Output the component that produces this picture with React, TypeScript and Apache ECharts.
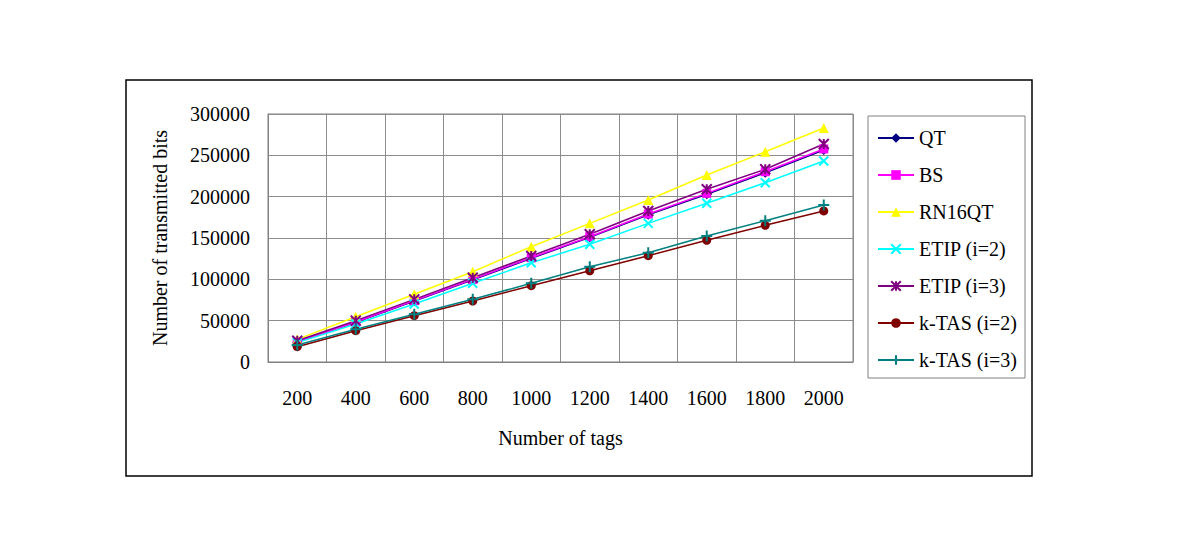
import React, { useEffect, useRef } from "react";
import * as echarts from "echarts";

const categories = ["200", "400", "600", "800", "1000", "1200", "1400", "1600", "1800", "2000"];
const seriesNames = ["QT", "BS", "RN16QT", "ETIP (i=2)", "ETIP (i=3)", "k-TAS (i=2)", "k-TAS (i=3)"];
const qt = [24000, 48000, 73600, 99400, 125400, 150800, 178000, 203000, 229000, 256500];
const bs = [24200, 48400, 74200, 100000, 126200, 151600, 179000, 204000, 230200, 257700];
const rn16qt = [27400, 54800, 81900, 109200, 139500, 167700, 196000, 226200, 254400, 283000];
const etip2 = [23400, 46000, 70200, 95200, 120100, 142400, 167700, 192000, 216900, 243100];
const etip3 = [25800, 50000, 75800, 102000, 128200, 154500, 182700, 208900, 233100, 263700];
const ktas2 = [18500, 37900, 56000, 73800, 92300, 110400, 128600, 147200, 165300, 182700];
const ktas3 = [20600, 39500, 57700, 75800, 95200, 115300, 132200, 152400, 170900, 189900];
const yTicks = { min: 0, max: 300000, interval: 50000 };

const FONT = '"Liberation Serif", "DejaVu Serif", serif';

const colors = ["#000080", "#FF00FF", "#FFFF00", "#00FFFF", "#800080", "#800000", "#008080"];
const symbols = [
  "diamond",
  "rect",
  "triangle",
  "path://M0,0L10,10M10,0L0,10",
  "path://M0,0L10,10M10,0L0,10M5,0L5,10",
  "circle",
  "path://M0,5L10,5M5,0L5,10",
];
const sizes = [10, 9, 10, 9, 10, 9, 11];
const dataSets = [qt, bs, rn16qt, etip2, etip3, ktas2, ktas3];

export default function App() {
  const ref = useRef<HTMLDivElement>(null);
  useEffect(() => {
    if (!ref.current) return;
    const chart = echarts.init(ref.current, undefined, { renderer: "svg" });
    const series = seriesNames.map((name, i) => {
      const stroke = i === 3 || i === 4 || i === 6;
      return {
        name,
        type: "line",
        data: dataSets[i],
        symbol: symbols[i],
        symbolSize: sizes[i],
        showSymbol: true,
        color: colors[i],
        lineStyle: { color: colors[i], width: 1.5 },
        itemStyle: stroke
          ? { color: colors[i], borderColor: colors[i], borderWidth: 2 }
          : { color: colors[i], borderColor: colors[i], borderWidth: 0 },
      };
    });
    chart.setOption({
      animation: false,
      backgroundColor: "#ffffff",
      textStyle: { fontFamily: FONT, color: "#000" },
      grid: {
        left: 268,
        top: 114,
        width: 585,
        height: 248,
        show: true,
        borderColor: "#808080",
        borderWidth: 1,
        containLabel: false,
      },
      legend: {
        orient: "vertical",
        left: 872,
        top: 123,
        itemWidth: 36,
        itemHeight: 12,
        itemGap: 17,
        textStyle: { fontFamily: FONT, fontSize: 20, color: "#000", lineHeight: 20 },
        data: seriesNames,
      },
      xAxis: {
        type: "category",
        data: categories,
        boundaryGap: true,
        axisTick: { show: false },
        axisLine: { lineStyle: { color: "#808080", width: 1 } },
        splitLine: { show: true, lineStyle: { color: "#8c8c8c", width: 1 } },
        axisLabel: { fontFamily: FONT, fontSize: 20, color: "#000", margin: 26, interval: 0 },
        name: "Number of tags",
        nameLocation: "middle",
        nameGap: 66,
        nameTextStyle: { fontFamily: FONT, fontSize: 20, color: "#000" },
      },
      yAxis: {
        type: "value",
        min: yTicks.min,
        max: yTicks.max,
        interval: yTicks.interval,
        axisTick: { show: false },
        axisLine: { show: true, lineStyle: { color: "#808080", width: 1 } },
        splitLine: { show: true, lineStyle: { color: "#8c8c8c", width: 1 } },
        axisLabel: {
          fontFamily: FONT,
          fontSize: 20,
          color: "#000",
          margin: 18,
          formatter: (v: number) => String(v),
        },
        name: "Number of transmitted bits",
        nameLocation: "middle",
        nameGap: 98,
        nameTextStyle: { fontFamily: FONT, fontSize: 20, color: "#000" },
      },
      graphic: [
        {
          type: "rect",
          shape: { x: 126, y: 80, width: 906, height: 396 },
          style: { fill: "none", stroke: "#000", lineWidth: 1.5 },
          silent: true,
        },
        {
          type: "rect",
          shape: { x: 868, y: 116, width: 157, height: 262 },
          style: { fill: "none", stroke: "#808080", lineWidth: 1 },
          silent: true,
        },
      ],
      series,
    });
    return () => chart.dispose();
  }, []);
  return (
    <div
      ref={ref}
      style={{ position: "absolute", left: 0, top: 0, width: 1200, height: 552, background: "#fff" }}
    />
  );
}
